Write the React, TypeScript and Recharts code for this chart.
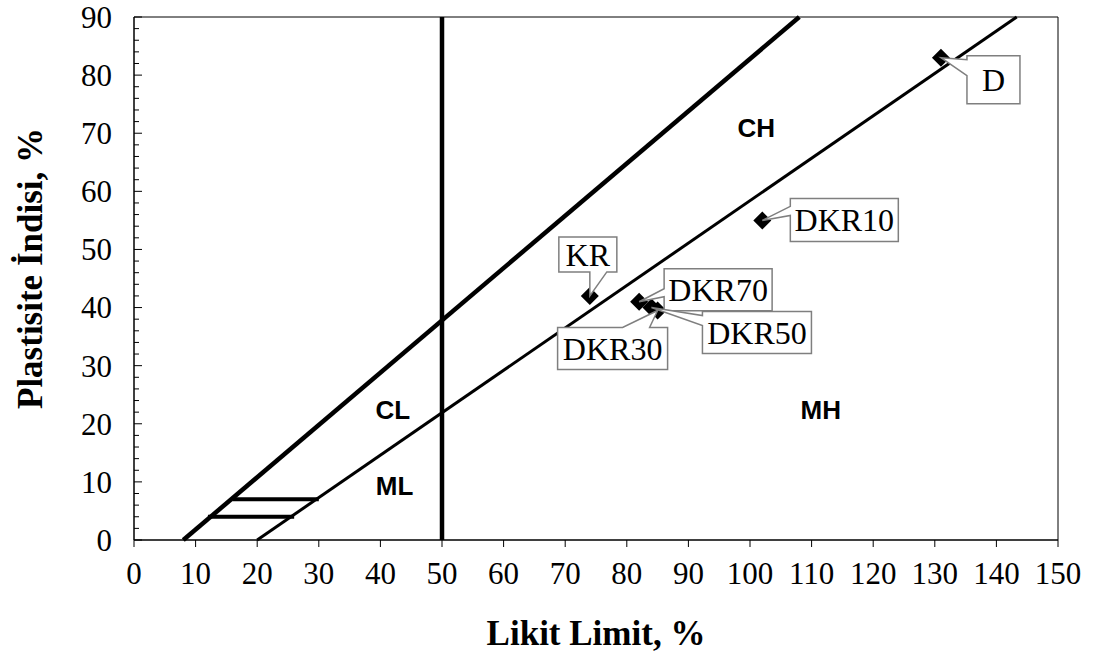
import React from "react";
import {
  ComposedChart,
  XAxis,
  YAxis,
  Line,
  Scatter,
  ReferenceArea,
  Label,
} from "recharts";

const SERIF = "'Liberation Serif', 'Times New Roman', serif";
const SANS = "'Liberation Sans', Arial, sans-serif";
const TICK_FONT = 31;

// axis ticks
const X_TICKS = [0, 10, 20, 30, 40, 50, 60, 70, 80, 90, 100, 110, 120, 130, 140, 150];
const Y_TICKS = [
  0, 2, 4, 6, 8, 10, 12, 14, 16, 18, 20, 22, 24, 26, 28, 30, 32, 34, 36, 38, 40,
  42, 44, 46, 48, 50, 52, 54, 56, 58, 60, 62, 64, 66, 68, 70, 72, 74, 76, 78, 80,
  82, 84, 86, 88, 90,
];

// Casagrande chart boundaries
const U_LINE = [
  { x: 8, y: 0 },
  { x: 108, y: 90 },
];
const A_LINE = [
  { x: 20, y: 0 },
  { x: 143.3, y: 90 },
];
const LL50_LINE = [
  { x: 50, y: 0 },
  { x: 50, y: 90 },
];
const CLML_UPPER = [
  { x: 16, y: 7 },
  { x: 30, y: 7 },
];
const CLML_LOWER = [
  { x: 12, y: 4 },
  { x: 26, y: 4 },
];

// soil samples (liquid limit, plasticity index)
const SAMPLES = [
  { name: "D", x: 131, y: 83 },
  { name: "DKR10", x: 102, y: 55 },
  { name: "KR", x: 74, y: 42 },
  { name: "DKR70", x: 82, y: 41 },
  { name: "DKR50", x: 84, y: 40 },
  { name: "DKR30", x: 85, y: 39.5 },
];

// zone names
const ZONES = [
  { name: "CH", x: 101, y: 71 },
  { name: "CL", x: 42, y: 22.5 },
  { name: "MH", x: 111.5, y: 22.5 },
  { name: "ML", x: 42.3, y: 9.3 },
];

type Side = "left" | "top" | "bottom" | "right";
interface CalloutBox {
  dx: number;
  dy: number;
  w: number;
  h: number;
  side: Side;
  b1: number;
  b2: number;
}

// callout box placement relative to the marker, in px
const CALLOUTS: Record<string, CalloutBox> = {
  D: { dx: 26, dy: -2, w: 53, h: 48, side: "left", b1: 4, b2: 20 },
  DKR10: { dx: 28, dy: -22, w: 108, h: 43, side: "left", b1: 8, b2: 17 },
  KR: { dx: -31, dy: -59, w: 58, h: 35, side: "bottom", b1: 31, b2: 48 },
  DKR70: { dx: 25, dy: -33, w: 108, h: 42, side: "left", b1: 20, b2: 28 },
  DKR50: { dx: 51, dy: 4, w: 109, h: 42, side: "left", b1: 4, b2: 14 },
  DKR30: { dx: -100, dy: 17, w: 110, h: 42, side: "top", b1: 65, b2: 92 },
};

function calloutPath(bx: number, by: number, c: CalloutBox, tx: number, ty: number) {
  const { w, h, side, b1, b2 } = c;
  const p: string[] = [`M${bx},${by}`];
  if (side === "top") p.push(`L${bx + b1},${by}`, `L${tx},${ty}`, `L${bx + b2},${by}`);
  p.push(`L${bx + w},${by}`);
  if (side === "right") p.push(`L${bx + w},${by + b1}`, `L${tx},${ty}`, `L${bx + w},${by + b2}`);
  p.push(`L${bx + w},${by + h}`);
  if (side === "bottom") p.push(`L${bx + b2},${by + h}`, `L${tx},${ty}`, `L${bx + b1},${by + h}`);
  p.push(`L${bx},${by + h}`);
  if (side === "left") p.push(`L${bx},${by + b2}`, `L${tx},${ty}`, `L${bx},${by + b1}`);
  p.push("Z");
  return p.join(" ");
}

const DiamondMarker = (props: any) => {
  const { cx, cy } = props;
  const r = 9;
  return (
    <polygon
      points={`${cx},${cy - r} ${cx + r},${cy} ${cx},${cy + r} ${cx - r},${cy}`}
      fill="#000"
    />
  );
};

const Callout = (props: any) => {
  const { cx, cy, payload } = props;
  const c = CALLOUTS[payload.name];
  if (!c) return <g />;
  const bx = cx + c.dx;
  const by = cy + c.dy;
  return (
    <g>
      <path
        d={calloutPath(bx, by, c, cx, cy)}
        fill="#fff"
        stroke="#7f7f7f"
        strokeWidth={1.5}
        strokeLinejoin="miter"
      />
      <text
        x={bx + c.w / 2}
        y={by + c.h / 2}
        dy="0.35em"
        textAnchor="middle"
        fontFamily={SERIF}
        fontSize={32}
        fill="#000"
      >
        {payload.name}
      </text>
    </g>
  );
};

const ZoneLabel = (props: any) => {
  const { cx, cy, payload } = props;
  return (
    <text
      x={cx}
      y={cy}
      dy="0.36em"
      textAnchor="middle"
      fontFamily={SANS}
      fontWeight="bold"
      fontSize={26}
      fill="#000"
    >
      {payload.name}
    </text>
  );
};

// y ticks point into the plot; labels only every 10
const Y_TICK_MARGIN = 22;
const YTick = (props: any) => {
  const { x, y, payload } = props;
  const v = payload.value as number;
  const major = v % 10 === 0;
  const ax = x + Y_TICK_MARGIN;
  return (
    <g>
      <line x1={ax} y1={y} x2={ax + (major ? 8 : 5)} y2={y} stroke="#000" strokeWidth={1} />
      {major && (
        <text
          x={x}
          y={y}
          dy="0.35em"
          textAnchor="end"
          fontFamily={SERIF}
          fontSize={TICK_FONT}
          fill="#000"
        >
          {v}
        </text>
      )}
    </g>
  );
};

const YTitle = (props: any) => {
  const { viewBox } = props;
  const cx = 30;
  const cy = viewBox.y + viewBox.height / 2 - 10;
  return (
    <text
      x={cx}
      y={cy}
      dy="0.35em"
      transform={`rotate(-90, ${cx}, ${cy})`}
      textAnchor="middle"
      fontFamily={SERIF}
      fontWeight="bold"
      fontSize={35}
      fill="#000"
    >
      Plastisite İndisi, %
    </text>
  );
};

const XTitle = (props: any) => {
  const { viewBox } = props;
  const cx = viewBox.x + viewBox.width / 2;
  return (
    <text
      x={cx}
      y={645}
      textAnchor="middle"
      fontFamily={SERIF}
      fontWeight="bold"
      fontSize={35}
      fill="#000"
    >
      Likit Limit, %
    </text>
  );
};

const lineProps = {
  dataKey: "y",
  type: "linear" as const,
  stroke: "#000",
  dot: false,
  activeDot: false,
  isAnimationActive: false,
  legendType: "none" as const,
};

export default function App() {
  return (
    <div style={{ position: "absolute", left: 0, top: 0, background: "#fff" }}>
      <ComposedChart
        width={1095}
        height={655}
        margin={{ top: 17, right: 37, bottom: 0, left: 0 }}
      >
        <XAxis
          type="number"
          dataKey="x"
          domain={[0, 150]}
          ticks={X_TICKS}
          interval={0}
          height={115}
          tickSize={7}
          tickMargin={15}
          axisLine={{ stroke: "#000" }}
          tickLine={{ stroke: "#000" }}
          tick={{ fontSize: TICK_FONT, fill: "#000", fontFamily: SERIF }}
        >
          <Label content={XTitle} />
        </XAxis>
        <YAxis
          type="number"
          domain={[0, 90]}
          ticks={Y_TICKS}
          interval={0}
          width={134}
          tickSize={0}
          tickMargin={Y_TICK_MARGIN}
          tickLine={false}
          axisLine={{ stroke: "#000" }}
          tick={<YTick />}
        >
          <Label content={YTitle} />
        </YAxis>
        <ReferenceArea
          x1={0}
          x2={150}
          y1={0}
          y2={90}
          fill="none"
          stroke="#000"
          strokeWidth={1}
          ifOverflow="visible"
        />
        <Line {...lineProps} data={U_LINE} strokeWidth={4.5} />
        <Line {...lineProps} data={A_LINE} strokeWidth={3} />
        <Line {...lineProps} data={LL50_LINE} strokeWidth={4.5} />
        <Line {...lineProps} data={CLML_UPPER} strokeWidth={4} />
        <Line {...lineProps} data={CLML_LOWER} strokeWidth={4} />
        <Scatter data={ZONES} dataKey="y" shape={ZoneLabel} isAnimationActive={false} />
        <Scatter data={SAMPLES} dataKey="y" shape={DiamondMarker} isAnimationActive={false} />
        <Scatter data={SAMPLES} dataKey="y" shape={Callout} isAnimationActive={false} />
      </ComposedChart>
    </div>
  );
}
